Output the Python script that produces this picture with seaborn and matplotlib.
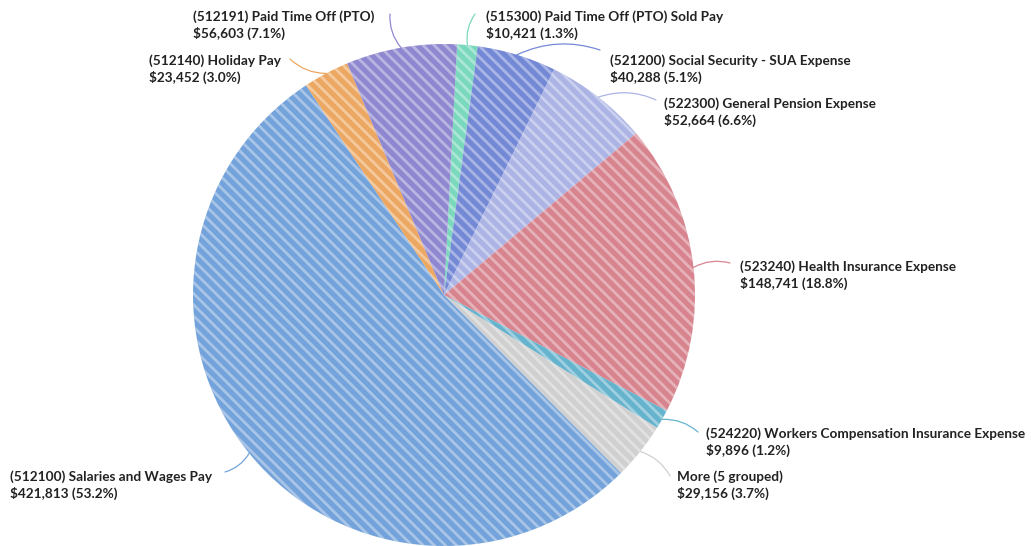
import numpy as np
import seaborn as sns
import matplotlib.pyplot as plt

# slices in clockwise order, starting just right of 12 o'clock
accounts = [
    "(515300) Paid Time Off (PTO) Sold Pay",
    "(521200) Social Security - SUA Expense",
    "(522300) General Pension Expense",
    "(523240) Health Insurance Expense",
    "(524220) Workers Compensation Insurance Expense",
    "More (5 grouped)",
    "(512100) Salaries and Wages Pay",
    "(512140) Holiday Pay",
    "(512191) Paid Time Off (PTO)",
]
amounts = [10421, 40288, 52664, 148741, 9896, 29156, 421813, 23452, 56603]
slice_colors = ["#7ad8bc", "#7489d6", "#abb4e4", "#d8848f", "#66b3cd",
                "#d0d0d0", "#73a3da", "#eca862", "#8f88d0"]

# label layout (figure pixels, from top-left): text anchor and leader start
label_pos = [(486, 25), (610, 69), (664, 112), (740, 275), (706, 442),
             (677, 485), (10, 485), (149, 69), (193, 25)]
leader_start = [(475, 14), (600, 50), (656, 100), (730, 263), (698, 432),
                (670, 476), (225, 472), (290, 59), (390, 14)]

W, H = 1031, 546

sns.set_theme(style="white")
plt.rcParams["font.family"] = ["Lato", "DejaVu Sans"]
plt.rcParams["hatch.linewidth"] = 2.0

fig = plt.figure(figsize=(W / 100, H / 100), dpi=100)
cx, cy, r = 444, 295, 251
ax = fig.add_axes([(cx - r) / W, (H - cy - r) / H, 2 * r / W, 2 * r / H])

wedges, _ = ax.pie(amounts, colors=slice_colors, startangle=87, counterclock=False,
                   radius=1.0, wedgeprops=dict(linewidth=0, edgecolor=(1, 1, 1, 0.38),
                                               hatch="\\\\\\"))
ax.set_xlim(-1, 1)
ax.set_ylim(-1, 1)
ax.set_aspect("equal")
ax.axis("off")

total = sum(amounts)
for w, name, val, col, (tx, ty), (lx, ly) in zip(wedges, accounts, amounts, slice_colors,
                                                  label_pos, leader_start):
    mid = np.deg2rad((w.theta1 + w.theta2) / 2)
    ax.annotate("", xy=(np.cos(mid), np.sin(mid)), xycoords="data",
                xytext=(lx, H - ly), textcoords="figure pixels",
                arrowprops=dict(arrowstyle="-", color=col, lw=0.9,
                                connectionstyle="arc3,rad=0.2",
                                shrinkA=0, shrinkB=0))
    fig.text(tx / W, 1 - ty / H, f"{name}\n${val:,} ({val / total * 100:.1f}%)",
             ha="left", va="center", fontsize=9.8, fontweight="bold",
             color="#222222", linespacing=1.3)

fig.savefig("out.png", dpi=100)
